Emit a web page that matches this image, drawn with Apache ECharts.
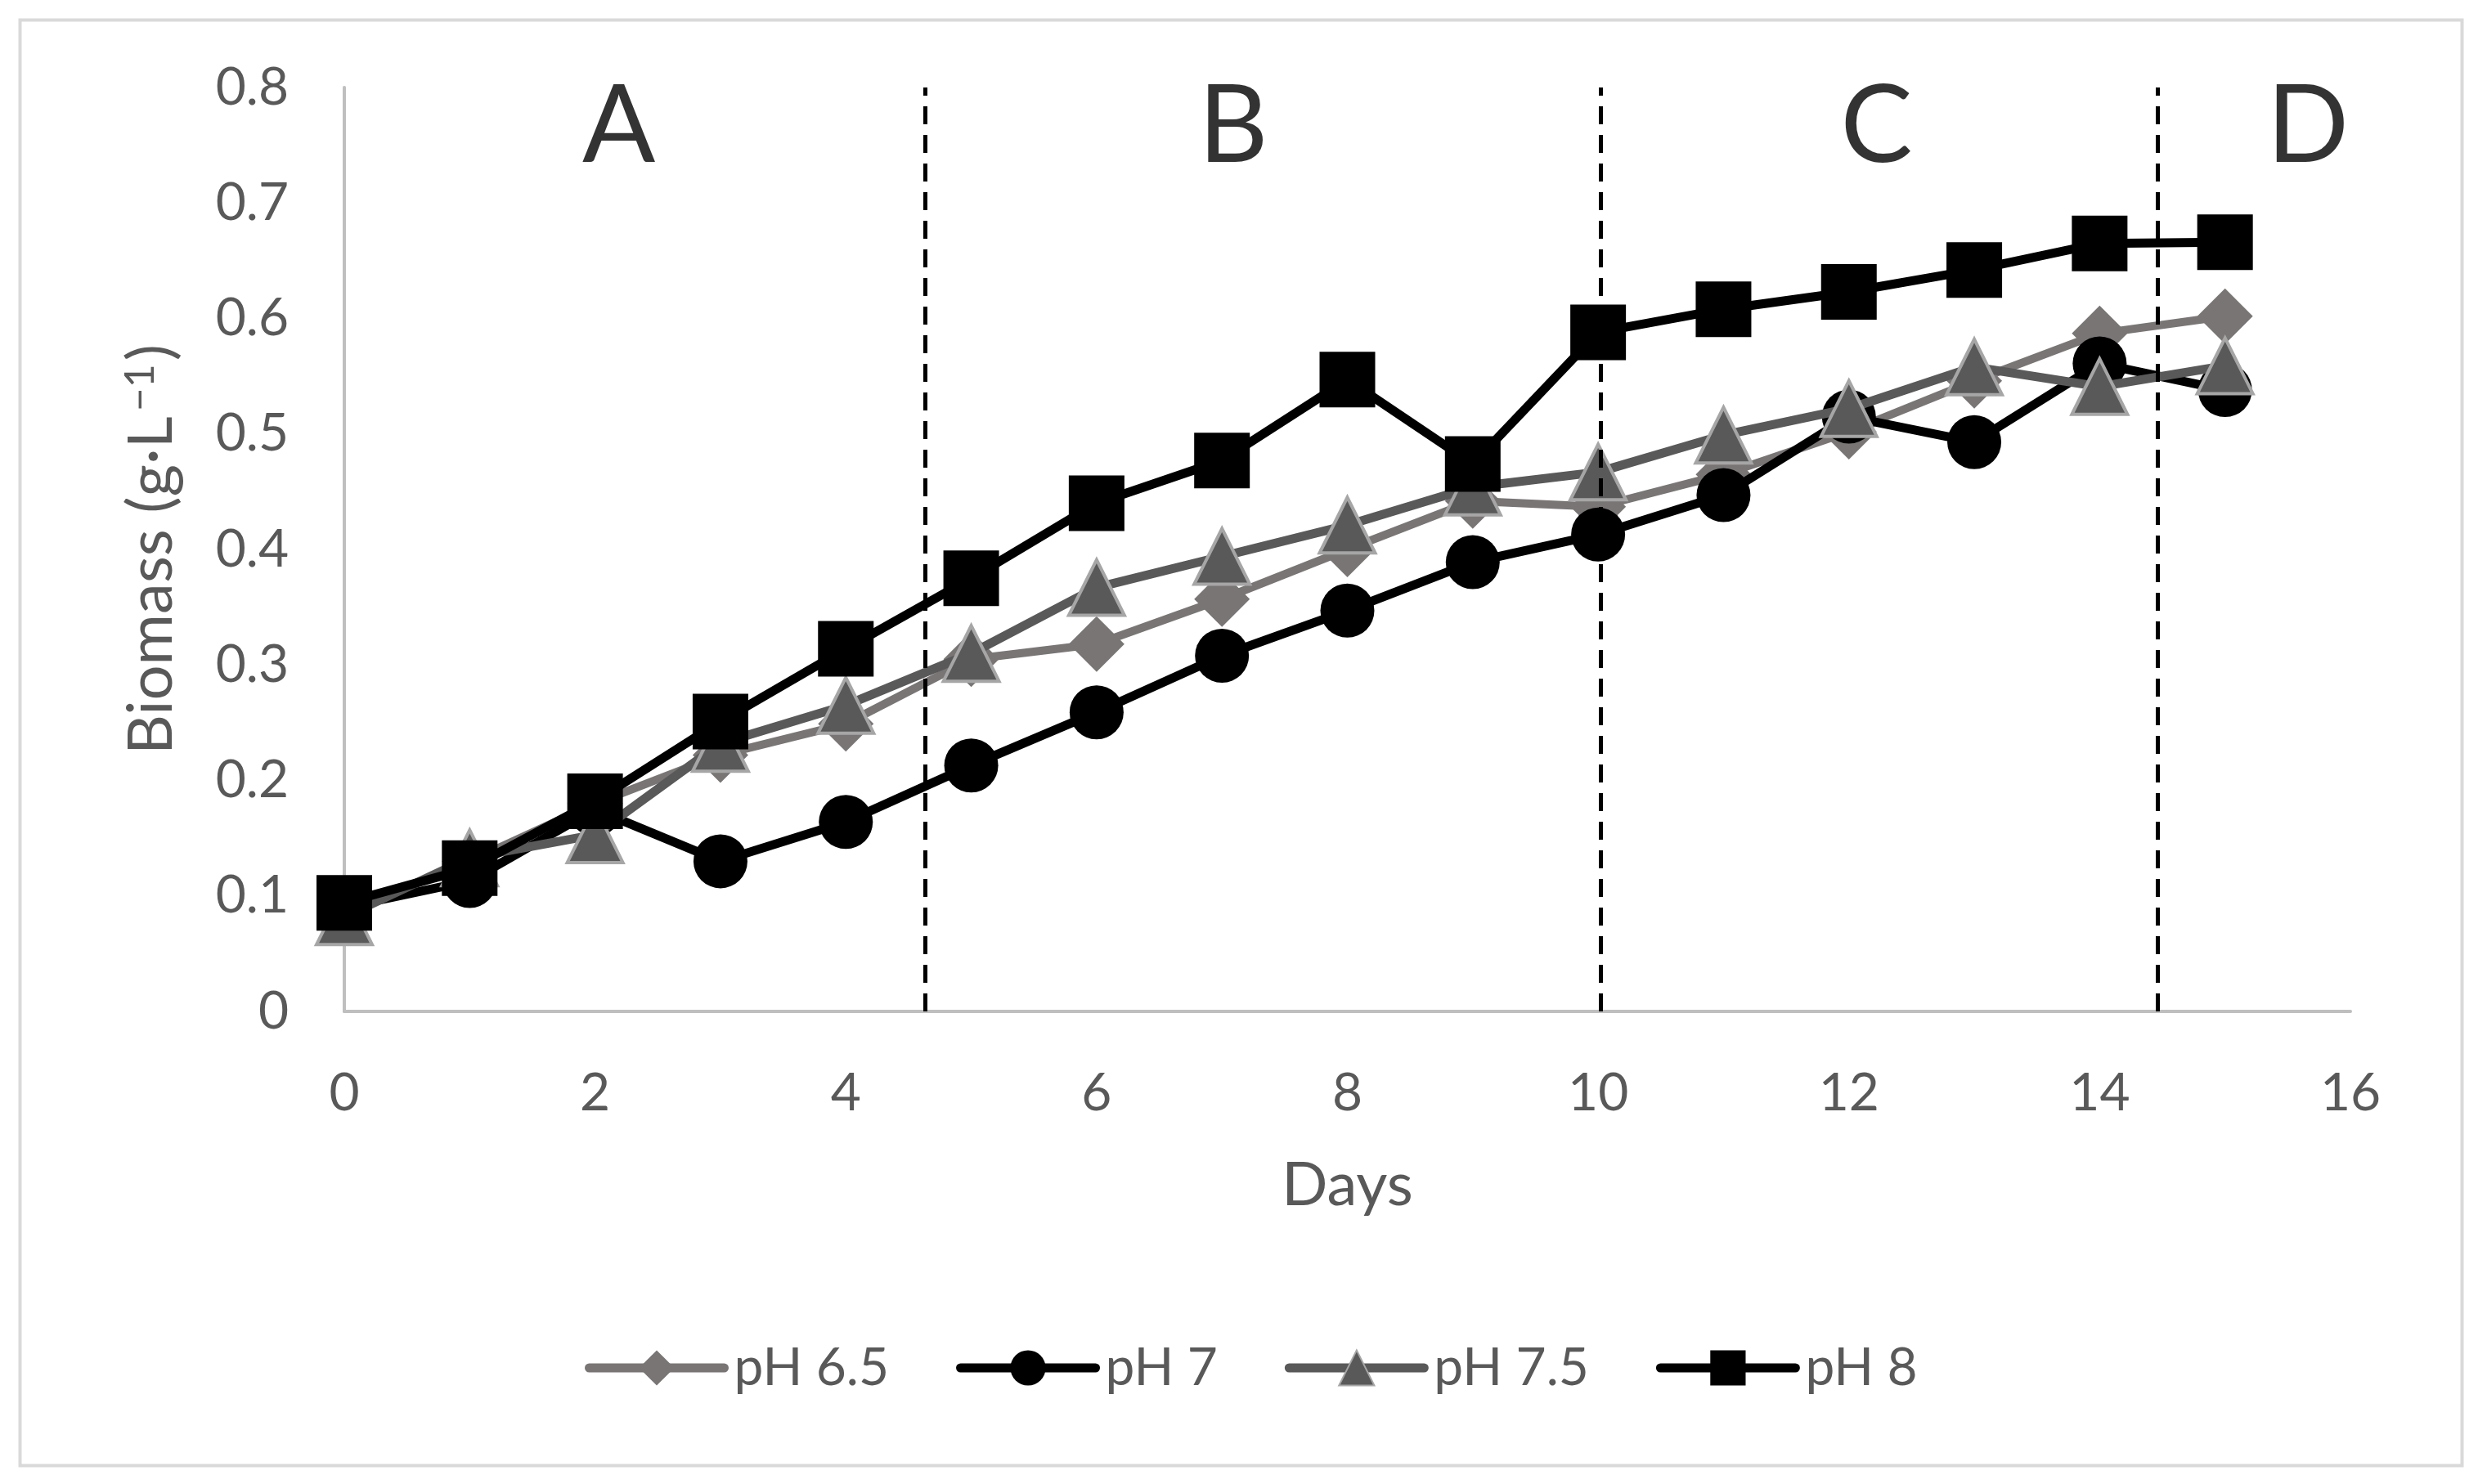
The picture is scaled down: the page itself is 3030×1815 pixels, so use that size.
<!DOCTYPE html>
<html>
<head>
<meta charset="utf-8">
<script src="https://cdn.jsdelivr.net/npm/echarts@6/dist/echarts.min.js"></script>
<style>
html,body{margin:0;padding:0;background:#fff;}
#chart{width:3030px;height:1815px;}
</style>
</head>
<body>
<div id="chart"></div>
<script>
const days = [0,1,2,3,4,5,6,7,8,9,10,11,12,13,14,15];
const ph65 = [0.085,0.130,0.180,0.222,0.249,0.305,0.318,0.357,0.400,0.442,0.437,0.465,0.502,0.546,0.587,0.602];
const ph7  = [0.090,0.113,0.175,0.130,0.164,0.213,0.259,0.308,0.347,0.389,0.413,0.447,0.515,0.493,0.561,0.538];
const ph75 = [0.082,0.133,0.153,0.232,0.265,0.310,0.367,0.394,0.421,0.454,0.467,0.499,0.522,0.558,0.541,0.559];
const ph8  = [0.094,0.124,0.182,0.251,0.314,0.375,0.440,0.477,0.547,0.474,0.588,0.608,0.623,0.642,0.665,0.666];
const seriesNames = ['pH 6.5','pH 7','pH 7.5','pH 8'];
const phaseBoundaries = [4.63, 10.02, 14.46];
const phaseLabels = ['A','B','C','D'];
const phaseLabelX = [2.19, 7.09, 12.22, 15.66];
const phaseLabelY = [0.766, 0.766, 0.766, 0.766];
const xTicks = {min:0, max:16, interval:2};
const yTicks = {min:0, max:0.8, interval:0.1};

const FONT = 'Lato';
const TXT = '#595959';

function pairs(vals){ return days.map((d,i)=>[d, vals[i]]); }

const chart = echarts.init(document.getElementById('chart'), null, {renderer:'canvas'});
const option = {
  backgroundColor:'#ffffff',
  animation:false,
  textStyle:{fontFamily:FONT},
  graphic:[{
    type:'rect', left:22, top:22, z:-10,
    shape:{width:2986, height:1768},
    style:{fill:'none', stroke:'#d9d9d9', lineWidth:4}
  }],
  grid:{left:421, right:156, top:107, bottom:578, containLabel:false},
  xAxis:{
    type:'value', min:xTicks.min, max:xTicks.max, interval:xTicks.interval,
    name:'Days', nameLocation:'middle', nameGap:176,
    nameTextStyle:{fontFamily:FONT, fontSize:74, color:TXT},
    axisLine:{show:true, lineStyle:{color:'#bfbfbf', width:4}},
    axisTick:{show:false},
    splitLine:{show:false},
    axisLabel:{fontFamily:FONT, fontSize:64, color:TXT, margin:68}
  },
  yAxis:{
    type:'value', min:yTicks.min, max:yTicks.max, interval:yTicks.interval,
    name:'{n|Biomass (g·L}{s|−1}{n|)}', nameLocation:'middle', nameGap:198,
    nameTextStyle:{fontFamily:FONT, fontSize:76, color:TXT,
      rich:{
        n:{fontFamily:FONT, fontSize:76, color:TXT},
        s:{fontFamily:FONT, fontSize:50, color:TXT, verticalAlign:'top', padding:[0,4,0,6]}
      }},
    axisLine:{show:true, lineStyle:{color:'#bfbfbf', width:4}},
    axisTick:{show:false},
    splitLine:{show:false},
    axisLabel:{fontFamily:FONT, fontSize:64, color:TXT, margin:68}
  },
  legend:{
    data:seriesNames,
    left:710, top:1636,
    itemWidth:165, itemHeight:54, itemGap:82,
    lineStyle:{width:11, cap:'round'},
    textStyle:{fontFamily:FONT, fontSize:64, color:TXT, padding:[0,0,0,7]}
  },
  series:[
    {
      name:'pH 6.5', type:'line', data:pairs(ph65), z:2,
      symbol:'diamond', symbolSize:68,
      lineStyle:{color:'#7a7575', width:10},
      itemStyle:{color:'#7a7575', borderWidth:0}
    },
    {
      name:'pH 7', type:'line', data:pairs(ph7), z:3,
      symbol:'circle', symbolSize:66,
      lineStyle:{color:'#000000', width:11},
      itemStyle:{color:'#000000', borderWidth:0}
    },
    {
      name:'pH 7.5', type:'line', data:pairs(ph75), z:4,
      symbol:'triangle', symbolSize:68,
      lineStyle:{color:'#595959', width:11},
      itemStyle:{color:'#595959', borderColor:'#a6a6a6', borderWidth:4}
    },
    {
      name:'pH 8', type:'line', data:pairs(ph8), z:5,
      symbol:'rect', symbolSize:68,
      lineStyle:{color:'#000000', width:11},
      itemStyle:{color:'#000000', borderWidth:0},
      markLine:{
        silent:true, symbol:'none', label:{show:false},
        lineStyle:{color:'#000000', width:5, type:[22,13]},
        data:phaseBoundaries.map(v=>({xAxis:v}))
      }
    },
    {
      name:'phases', type:'scatter', symbolSize:0, z:6,
      data:phaseLabels.map((t,i)=>({name:t, value:[phaseLabelX[i], phaseLabelY[i]]})),
      label:{show:true, position:'inside', formatter:p=>p.name,
        fontFamily:FONT, fontSize:132, color:'#000000'}
    }
  ]
};
chart.setOption(option);
</script>
</body>
</html>
